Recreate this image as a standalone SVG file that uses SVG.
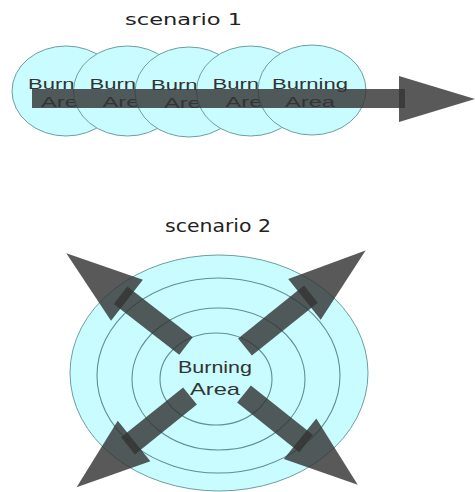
<svg xmlns="http://www.w3.org/2000/svg" xmlns:xlink="http://www.w3.org/1999/xlink" width="475" height="492" viewBox="0 0 475 492">
  <style>
    .area { fill: #c8fcfe; stroke: #6e9ea0; stroke-width: 1; }
    .ring { fill: none; stroke: #5f8f92; stroke-width: 1.1; }
    .lbl { font-family: "Liberation Sans", Arial, sans-serif; font-size: 17px; fill: #333; text-anchor: middle; }
    .s1 { font-family: "Liberation Sans", Arial, sans-serif; font-size: 15px; fill: #333; }
    .title { font-family: "DejaVu Sans", Verdana, sans-serif; fill: #222; }
    .arr { fill: #353535; fill-opacity: 0.82; }
  </style>
  <defs>
    <g id="arrow">
      <rect class="arr" x="0" y="-11" width="82" height="22"/>
      <polygon class="arr" points="74,-26 74,26 150,0"/>
    </g>
  </defs>

  <text class="title" x="125" y="25" font-size="16.5" textLength="117" lengthAdjust="spacingAndGlyphs">scenario 1</text>

  <g id="area1">
    <ellipse class="area" cx="66" cy="91" rx="54" ry="45"/>
    <text class="s1" x="28" y="89" textLength="46.6" lengthAdjust="spacingAndGlyphs">Burn</text>
    <text class="s1" x="41" y="107" textLength="36.8" lengthAdjust="spacingAndGlyphs">Are</text>
  </g>
  <g id="area2">
    <ellipse class="area" cx="127.5" cy="91" rx="54" ry="45"/>
    <text class="s1" x="89.5" y="89" textLength="46.6" lengthAdjust="spacingAndGlyphs">Burn</text>
    <text class="s1" x="102.5" y="107" textLength="36.8" lengthAdjust="spacingAndGlyphs">Are</text>
  </g>
  <g id="area3">
    <ellipse class="area" cx="189" cy="92" rx="54" ry="45"/>
    <text class="s1" x="151" y="90" textLength="46.6" lengthAdjust="spacingAndGlyphs">Burn</text>
    <text class="s1" x="164" y="108" textLength="36.8" lengthAdjust="spacingAndGlyphs">Are</text>
  </g>
  <g id="area4">
    <ellipse class="area" cx="250.5" cy="91" rx="54" ry="45"/>
    <text class="s1" x="212.5" y="89" textLength="46.6" lengthAdjust="spacingAndGlyphs">Burn</text>
    <text class="s1" x="225.5" y="107" textLength="36.8" lengthAdjust="spacingAndGlyphs">Are</text>
  </g>
  <g id="area5">
    <ellipse class="area" cx="312" cy="90" rx="54" ry="45"/>
    <text class="s1" x="310" y="89" text-anchor="middle" textLength="76" lengthAdjust="spacingAndGlyphs">Burning</text>
    <text class="s1" x="310" y="107" text-anchor="middle" textLength="50" lengthAdjust="spacingAndGlyphs">Area</text>
  </g>

  <g id="connectors1">
    <rect class="arr" x="32" y="89" width="373" height="19"/>
    <polygon class="arr" points="399,76 399,122 475,99"/>
  </g>

  <text class="title" x="165" y="232" font-size="18" textLength="106" lengthAdjust="spacingAndGlyphs">scenario 2</text>

  <g id="spread">
    <ellipse class="area" cx="219" cy="373" rx="149" ry="118"/>
    <ellipse class="ring" cx="218.5" cy="375.5" rx="121.5" ry="97.5"/>
    <ellipse class="ring" cx="218.5" cy="379" rx="86.5" ry="71"/>
    <ellipse class="ring" cx="216" cy="379" rx="56" ry="46"/>
    <text class="lbl" x="215" y="373" textLength="74" lengthAdjust="spacingAndGlyphs">Burning</text>
    <text class="lbl" x="215" y="395" textLength="50" lengthAdjust="spacingAndGlyphs">Area</text>
  </g>

  <g id="connectors2">
    <use xlink:href="#arrow" transform="translate(186,346) rotate(217.8) scale(1.01,1)"/>
    <use xlink:href="#arrow" transform="translate(245,347) rotate(-38.7) scale(1.03,1)"/>
    <use xlink:href="#arrow" transform="translate(190,396) rotate(141.2) scale(0.97,1)"/>
    <use xlink:href="#arrow" transform="translate(244,394) rotate(38.6) scale(0.97,1)"/>
  </g>
</svg>
